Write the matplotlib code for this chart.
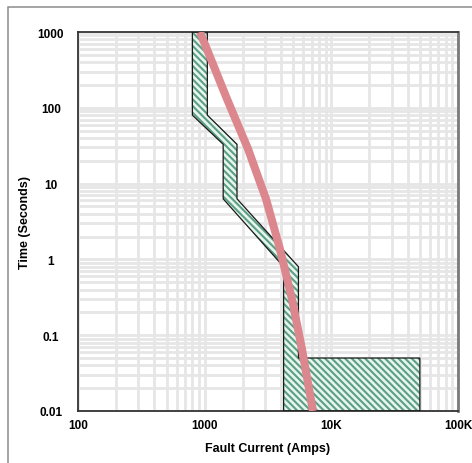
import matplotlib
matplotlib.use("Agg")
import matplotlib.pyplot as plt
from matplotlib.patches import Rectangle
from matplotlib.ticker import FixedLocator, LogLocator, NullFormatter

plt.rcParams["font.family"] = ["Liberation Sans", "DejaVu Sans"]
plt.rcParams["hatch.linewidth"] = 1.5

# fuse band (min melt / max clear)
band_min_amps = [800, 800, 1400, 1400, 4200, 4200]
band_min_secs = [1000, 80, 33, 6.3, 0.8, 0.01]
band_max_amps = [1050, 1050, 1800, 1800, 5500, 5500, 50000, 50000]
band_max_secs = [1000, 80, 33, 6.3, 0.8, 0.05, 0.05, 0.01]

# relay curve
curve_amps = [918, 1500, 2200, 3050, 3930, 4890, 5860, 7160]
curve_secs = [1000, 131, 28.6, 6.26, 1.37, 0.30, 0.066, 0.01]

x_ticks = [100, 1000, 10000, 100000]
x_labels = ["100", "1000", "10K", "100K"]
y_ticks = [0.01, 0.1, 1, 10, 100, 1000]
y_labels = ["0.01", "0.1", "1", "10", "100", "1000"]

fig = plt.figure(figsize=(4.72, 4.64), dpi=100)
ax = fig.add_axes([78 / 472, 1 - 412 / 464, 380 / 472, 379 / 464])

# outer frame
fig.patches.append(Rectangle((8 / 472, -0.2), 1.3, 1.2 - 8 / 464,
                             transform=fig.transFigure, fill=False,
                             edgecolor="#8c8c8c", linewidth=1.1))

ax.set_xscale("log")
ax.set_yscale("log")
ax.set_xlim(100, 100000)
ax.set_ylim(0.01, 1000)

# polygon: down the min side, back up the max side
poly_x = band_min_amps + band_max_amps[::-1]
poly_y = band_min_secs + band_max_secs[::-1]
ax.fill(poly_x, poly_y, facecolor="#e6f5ee", edgecolor="#5c9f84",
        hatch="\\\\\\\\\\", linewidth=0, zorder=2)
ax.fill(poly_x, poly_y, fill=False, edgecolor="#1a1a1a", linewidth=0.9,
        zorder=3)

ax.plot(curve_amps, curve_secs, color="#dc878e", linewidth=5.8,
        solid_capstyle="butt", solid_joinstyle="round", zorder=4)

ax.xaxis.set_major_locator(FixedLocator(x_ticks))
ax.yaxis.set_major_locator(FixedLocator(y_ticks))
ax.xaxis.set_minor_locator(LogLocator(base=10, subs=range(2, 10)))
ax.yaxis.set_minor_locator(LogLocator(base=10, subs=range(2, 10)))
ax.xaxis.set_minor_formatter(NullFormatter())
ax.yaxis.set_minor_formatter(NullFormatter())
ax.set_xticklabels(x_labels)
ax.set_yticklabels(y_labels)
for lab in ax.get_yticklabels():
    lab.set_ha("center")

ax.tick_params(which="both", length=0)
ax.tick_params(axis="x", pad=6)
ax.tick_params(axis="y", pad=19.5)
for lab in ax.get_xticklabels() + ax.get_yticklabels():
    lab.set_fontsize(8.5)
    lab.set_fontweight("bold")

ax.grid(True, which="both", color="#e6e6e6", linewidth=2.0, zorder=0)
ax.set_axisbelow(True)

for side in ["top", "left", "bottom"]:
    ax.spines[side].set_color("#333333")
    ax.spines[side].set_linewidth(1.3)
ax.spines["right"].set_color("#7a7a7a")
ax.spines["right"].set_linewidth(2.0)

ax.set_xlabel("Fault Current (Amps)", fontsize=9, fontweight="bold",
              labelpad=8)
ax.set_ylabel("Time (Seconds)", fontsize=9, fontweight="bold", labelpad=5)

fig.savefig("out.png", dpi=100)
